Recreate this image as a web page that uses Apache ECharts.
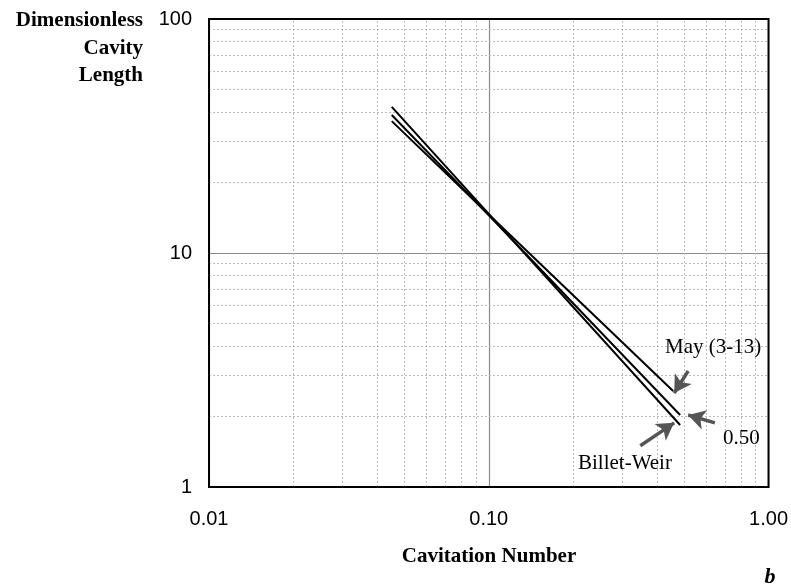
<!DOCTYPE html>
<html><head><meta charset="utf-8">
<script src="https://cdn.jsdelivr.net/npm/echarts@6/dist/echarts.min.js"></script>
<style>html,body{margin:0;padding:0;background:#fff}#c{width:791px;height:588px}</style>
</head><body><div id="c"></div><script>
// Tick labels
const xTicks = ['0.01', '0.10', '1.00'];
const yTicks = ['1', '10', '100'];
// Series (cavitation number -> dimensionless cavity length)
const mayX = [0.045, 0.10, 0.456];
const mayY = [36.6, 14.6, 2.57];
const halfX = [0.045, 0.10, 0.483];
const halfY = [38.9, 14.5, 2.03];
const bwX = [0.045, 0.10, 0.483];
const bwY = [42.1, 14.7, 1.84];
// Annotation arrows [fromX, fromY, toX, toY] in data units
const mayArrow = [0.516, 3.13, 0.460, 2.52];
const halfArrow = [0.643, 1.88, 0.516, 2.03];
const bwArrow = [0.348, 1.50, 0.460, 1.88];

const pairs = (xs, ys) => xs.map((x, i) => [x, ys[i]]);
const minorVals = (starts) => {
  const out = [];
  starts.forEach(d => { for (let k = 2; k <= 9; k++) out.push(+(d * k).toPrecision(6)); });
  return out;
};
const minorX = minorVals([0.01, 0.1]);
const minorY = minorVals([1, 10]);

const minorStyle = { color: '#bcbcbc', width: 1, type: [2, 2] };
const arrowStyle = { color: '#555', width: 3.5, type: 'solid' };
const arrowLine = a => [{ coord: [a[0], a[1]] }, { coord: [a[2], a[3]] }];

const chart = echarts.init(document.getElementById('c'), null, { renderer: 'canvas' });
const lineSeries = (name, xs, ys) => ({
  name, type: 'line', data: pairs(xs, ys), symbol: 'none', z: 5,
  lineStyle: { color: '#000', width: 2 }, animation: false
});
const serifText = (text, x, y, opts) => ({
  type: 'text', x, y, z: 100,
  style: Object.assign({ text, fill: '#000', font: '21px "Liberation Serif", "Times New Roman", serif', textVerticalAlign: 'middle' }, opts || {})
});
const boldTitle = 'bold 21px "Liberation Serif", "Times New Roman", serif';

chart.setOption({
  animation: false,
  backgroundColor: '#fff',
  grid: { left: 209, top: 19, right: 17, bottom: 101, show: true, borderColor: '#000', borderWidth: 2, z: 10 },
  xAxis: {
    type: 'log', logBase: 10, min: 0.01, max: 1, interval: 1,
    axisLine: { show: false }, axisTick: { show: false },
    splitLine: { show: true, lineStyle: { color: '#8a8a8a', width: 1.2 } },
    axisLabel: {
      margin: 22, color: '#000', fontSize: 20, fontFamily: '"Liberation Sans", Arial, sans-serif',
      formatter: v => xTicks[Math.round(Math.log10(v)) + 2]
    }
  },
  yAxis: {
    type: 'log', logBase: 10, min: 1, max: 100, interval: 1,
    axisLine: { show: false }, axisTick: { show: false },
    splitLine: { show: true, lineStyle: { color: '#8a8a8a', width: 1.2 } },
    axisLabel: {
      margin: 17, color: '#000', fontSize: 20, fontFamily: '"Liberation Sans", Arial, sans-serif',
      formatter: v => yTicks[Math.round(Math.log10(v))]
    }
  },
  series: [
    {
      type: 'line', data: [], silent: true, z: 1,
      markLine: {
        silent: true, symbol: 'none', animation: false, label: { show: false },
        lineStyle: minorStyle,
        data: minorX.map(v => ({ xAxis: v })).concat(minorY.map(v => ({ yAxis: v })))
      }
    },
    lineSeries('May (3-13)', mayX, mayY),
    lineSeries('0.50', halfX, halfY),
    lineSeries('Billet-Weir', bwX, bwY),
    {
      type: 'line', data: [], silent: true, z: 6,
      markLine: {
        silent: true, animation: false, label: { show: false },
        symbol: ['none', 'arrow'], symbolSize: [15, 17],
        lineStyle: arrowStyle,
        data: [arrowLine(mayArrow), arrowLine(halfArrow), arrowLine(bwArrow)]
      }
    }
  ],
  graphic: [
    serifText('Dimensionless', 143, 21, { textAlign: 'right', font: boldTitle, letterSpacing: 0.6 }),
    serifText('Cavity', 143, 49, { textAlign: 'right', font: boldTitle }),
    serifText('Length', 143, 76, { textAlign: 'right', font: boldTitle }),
    serifText('Cavitation Number', 489, 557, { textAlign: 'center', font: boldTitle }),
    serifText('b', 770, 577, { textAlign: 'center', font: 'bold italic 22px "Liberation Serif", "Times New Roman", serif' }),
    serifText('May (3-13)', 665, 347),
    serifText('0.50', 723, 438),
    serifText('Billet-Weir', 578, 463)
  ]
});
</script></body></html>
